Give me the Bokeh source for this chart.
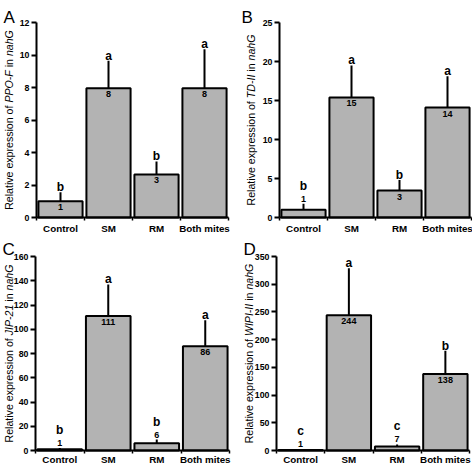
import math
from bokeh.plotting import figure
from bokeh.layouts import gridplot
from bokeh.models import Range1d, FixedTicker, Label, ColumnDataSource, Whisker
from bokeh.core.properties import value
from bokeh.embed import file_html
from bokeh.resources import INLINE

# ---------------- data ----------------
categories = ["Control", "SM", "RM", "Both mites"]

a_mean = [1.0, 7.95, 2.65, 7.95]
a_upper = [1.55, 9.65, 3.45, 10.35]
a_labels = ["1", "8", "3", "8"]
a_letters = ["b", "a", "b", "a"]
a_yticks = [0, 2, 4, 6, 8, 10, 12]

b_mean = [1.0, 15.4, 3.45, 14.1]
b_upper = [1.75, 19.5, 4.8, 18.1]
b_labels = ["1", "15", "3", "14"]
b_letters = ["b", "a", "b", "a"]
b_yticks = [0, 5, 10, 15, 20, 25]

c_mean = [1.0, 111.0, 6.0, 86.0]
c_upper = [2.0, 137.0, 9.0, 107.5]
c_labels = ["1", "111", "6", "86"]
c_letters = ["b", "a", "b", "a"]
c_yticks = [0, 20, 40, 60, 80, 100, 120, 140, 160]

d_mean = [1.0, 244.0, 7.0, 138.0]
d_upper = [2.0, 329.0, 11.0, 180.0]
d_labels = ["1", "244", "7", "138"]
d_letters = ["c", "a", "c", "b"]
d_yticks = [0, 50, 100, 150, 200, 250, 300, 350]

genes = ["PPO-F", "TD-II", "JIP-21", "WIPI-II"]
panel_letters = ["A", "B", "C", "D"]

# ---------------- style ----------------
FONT = "'Liberation Sans', Arial, sans-serif"
BAR_FILL = "#b3b3b3"

# Arial / Liberation Sans regular advance widths (per 1000 em)
W = {' ': 278, 'R': 722, 'e': 556, 'l': 222, 'a': 556, 't': 278, 'i': 222, 'v': 500,
     'x': 500, 'p': 556, 'r': 333, 's': 500, 'o': 556, 'n': 556, 'f': 278, 'P': 667,
     'O': 778, '-': 333, 'F': 611, 'h': 556, 'G': 778, 'T': 611, 'D': 722, 'I': 278,
     'J': 500, 'W': 944, '1': 556, '2': 556}


def tw(s, size):
    return sum(W.get(ch, 556) for ch in s) / 1000.0 * size


# plot-area borders inside each 236x232 cell (px), y-label offset, panel-letter offsets
layouts = [
    dict(l=36, r=8, t=22, b=15, ylab=-28, lx=-33, ly=5, xo=5),
    dict(l=43, r=1, t=22, b=15, ylab=-29, lx=-38, ly=5, xo=5),
    dict(l=35, r=7, t=24, b=14, ylab=-27, lx=-33, ly=7, xo=3),
    dict(l=40, r=3, t=24, b=14, ylab=-27.5, lx=-33, ly=7, xo=3),
]

panels = [
    (a_mean, a_upper, a_labels, a_letters, a_yticks),
    (b_mean, b_upper, b_labels, b_letters, b_yticks),
    (c_mean, c_upper, c_labels, c_letters, c_yticks),
    (d_mean, d_upper, d_labels, d_letters, d_yticks),
]

W_FIG, H_FIG = 236, 232
figs = []
for k, (mean, upper, labels, letters, yticks) in enumerate(panels):
    L = layouts[k]
    n = len(categories)
    ymax = yticks[-1]
    pw = W_FIG - L["l"] - L["r"]
    ph = H_FIG - L["t"] - L["b"]
    xpp = n / pw
    ypp = ymax / ph
    p = figure(width=W_FIG, height=H_FIG,
               x_range=Range1d(-L["l"] * xpp, n + L["r"] * xpp),
               y_range=Range1d(-L["b"] * ypp, ymax + L["t"] * ypp),
               output_backend="svg", toolbar_location=None, tools="",
               min_border=0, min_border_left=0, min_border_right=0,
               min_border_top=0, min_border_bottom=0)
    p.xgrid.visible = False
    p.ygrid.visible = False
    p.outline_line_color = None
    p.background_fill_color = "white"

    xs = [i + 0.5 for i in range(n)]
    src = ColumnDataSource(dict(x=xs, mean=mean, upper=upper))
    p.vbar(x="x", top="mean", bottom=0, width=0.92, source=src,
           fill_color=BAR_FILL, line_color="black", line_width=2)
    p.add_layout(Whisker(base="x", lower="mean", upper="upper", source=src,
                         line_color="black", line_width=2,
                         upper_head=None, lower_head=None))

    # value labels and significance letters
    in_x, in_y, in_t = [], [], []
    ab_x, ab_y, ab_t = [], [], []
    le_x, le_y, le_t, le_off = [], [], [], []
    for i in range(n):
        bar_px = mean[i] / ymax * ph
        if bar_px >= 13:
            in_x.append(xs[i]); in_y.append(mean[i]); in_t.append(labels[i])
            le_off.append(-5)
        else:
            ab_x.append(xs[i]); ab_y.append(upper[i]); ab_t.append(labels[i])
            le_off.append(-18)
        le_x.append(xs[i]); le_y.append(upper[i]); le_t.append(letters[i])

    p.text(x=in_x, y=in_y, text=in_t, text_align="center", text_baseline="top",
           y_offset=3, text_font=value(FONT), text_font_style="bold",
           text_font_size="9px", text_color="black")
    if ab_x:
        p.text(x=ab_x, y=ab_y, text=ab_t, text_align="center", text_baseline="alphabetic",
               y_offset=-5, text_font=value(FONT), text_font_style="bold",
               text_font_size="9px", text_color="black")
    p.text(x=le_x, y=le_y, text=le_t, text_align="center", text_baseline="alphabetic",
           y_offset=le_off, text_font=value(FONT), text_font_style="bold",
           text_font_size="12px", text_color="black")

    # y axis, fixed at x = 0 inside the frame; ticks drawn outward via negative tick_in
    ya = p.yaxis[0]
    ya.fixed_location = 0
    ya.bounds = (0, ymax)
    ya.ticker = FixedTicker(ticks=yticks)
    ya.axis_line_width = 2
    ya.axis_line_color = "black"
    ya.major_tick_line_width = 2
    ya.major_tick_line_color = "black"
    ya.major_tick_out = 0
    ya.major_tick_in = -5
    ya.minor_tick_line_color = None
    ya.minor_tick_out = 0
    ya.minor_tick_in = 0
    ya.major_label_standoff = 0
    ya.major_label_text_color = None
    ya.major_label_text_alpha = 0

    # y tick labels
    p.text(x=[0] * len(yticks), y=yticks, text=[str(t) for t in yticks],
           text_align="right", text_baseline="middle", x_offset=-7,
           text_font=value(FONT), text_font_style="bold", text_font_size="8.8px",
           text_color="black")

    # x axis, fixed at y = 0, boundary ticks as minor ticks
    xa = p.xaxis[0]
    xa.fixed_location = 0
    xa.bounds = (0, n)
    xa.ticker = FixedTicker(ticks=xs, minor_ticks=list(range(n + 1)))
    xa.axis_line_width = 2
    xa.axis_line_color = "black"
    xa.major_tick_line_color = None
    xa.major_tick_out = 0
    xa.major_tick_in = 0
    xa.minor_tick_out = 0
    xa.minor_tick_in = -3
    xa.minor_tick_line_width = 1.5
    xa.minor_tick_line_color = "black"
    xa.major_label_standoff = 0
    xa.major_label_text_color = None
    xa.major_label_text_alpha = 0

    # category labels
    p.text(x=xs, y=[0] * n, text=categories, text_align="center", text_baseline="top",
           y_offset=L["xo"], text_font=value(FONT), text_font_style="bold",
           text_font_size="9.8px", text_color="black")

    # y-axis title with italic gene names
    fs = 10.6
    pieces = [("Relative expression of", "normal"), (genes[k], "italic"),
              ("in", "normal"), ("nahG", "italic")]
    sp = tw(" ", fs)
    total = sum(tw(t, fs) for t, _ in pieces) + sp * (len(pieces) - 1)
    pos = L["b"] + ph / 2.0 - total / 2.0
    for t, style in pieces:
        p.add_layout(Label(x=L["l"] + L["ylab"], y=pos, x_units="screen", y_units="screen",
                           text=t, angle=math.pi / 2, text_align="left",
                           text_baseline="middle", text_font=FONT,
                           text_font_style=style, text_font_size=f"{fs}px",
                           text_color="black"))
        pos += tw(t, fs) + sp

    # panel letter
    p.add_layout(Label(x=L["l"] + L["lx"], y=L["b"] + ph + L["ly"],
                       x_units="screen", y_units="screen",
                       text=panel_letters[k], text_align="left", text_baseline="alphabetic",
                       text_font=FONT, text_font_size="17px", text_color="black"))
    figs.append(p)

grid = gridplot([[figs[0], figs[1]], [figs[2], figs[3]]], toolbar_location=None)
open("out.html", "w").write(file_html(grid, INLINE))
